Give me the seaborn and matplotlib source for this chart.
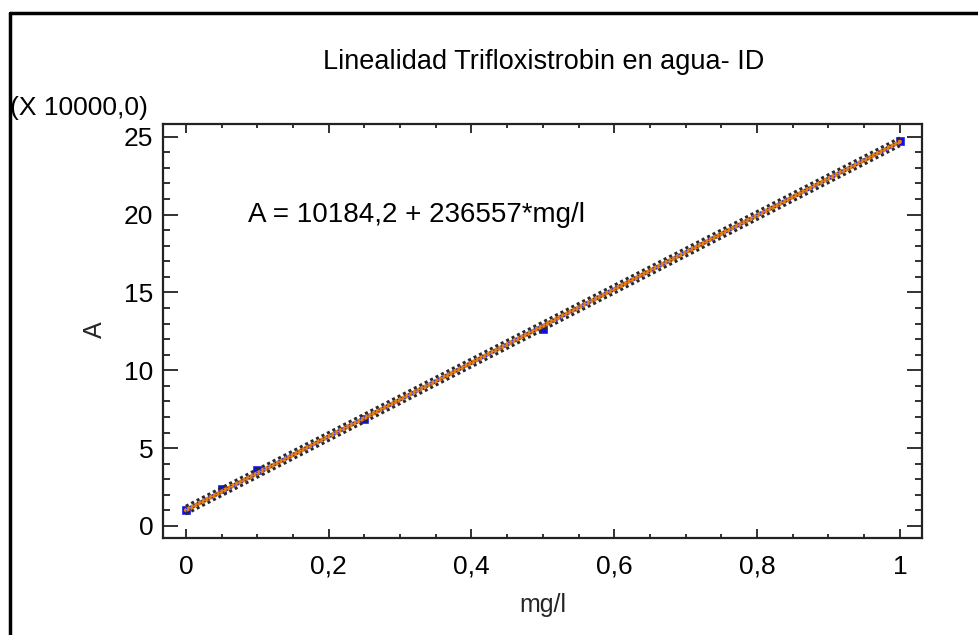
import numpy as np
import pandas as pd
import seaborn as sns
import matplotlib
matplotlib.use('Agg')
import matplotlib.pyplot as plt
from matplotlib.ticker import MultipleLocator, FuncFormatter
from matplotlib.lines import Line2D

# dados
conc = [0, 0.05, 0.1, 0.25, 0.5, 1.0]            # mg/l
area = [10300, 23500, 35800, 69000, 126500, 247500]  # A
intercepto = 10184.2
inclinacao = 236557
# meia-largura dos limites (em A)
lim_pred = 2500
lim_conf = 900

escala = 10000.0

sns.set_style('ticks')
plt.rcParams['font.family'] = ['Liberation Sans', 'DejaVu Sans']
plt.rcParams['text.color'] = 'black'

fig = plt.figure(figsize=(9.79, 6.35), dpi=100)
ax = fig.add_axes([0.1665, 0.1528, 0.9418 - 0.1665, 0.8043 - 0.1528])

xs = np.linspace(0, 1, 60)
ajuste = (intercepto + inclinacao * xs) / escala
dfl = pd.DataFrame({'x': xs, 'y': ajuste,
                    'pi_sup': ajuste + lim_pred / escala, 'pi_inf': ajuste - lim_pred / escala,
                    'ci_sup': ajuste + lim_conf / escala, 'ci_inf': ajuste - lim_conf / escala})
dfp = pd.DataFrame({'x': conc, 'y': np.array(area) / escala})

sns.scatterplot(data=dfp, x='x', y='y', ax=ax, marker='s', s=28, color='#1010e0',
                edgecolor='#1010e0', zorder=2)
for c in ['pi_sup', 'pi_inf']:
    sns.lineplot(data=dfl, x='x', y=c, ax=ax, color='#2a2a2a', lw=2.2,
                 linestyle=(0, (1, 1)), zorder=3)
sns.lineplot(data=dfl, x='x', y='y', ax=ax, color='#e8800f', lw=3, zorder=4)
for c in ['ci_sup', 'ci_inf']:
    sns.lineplot(data=dfl, x='x', y=c, ax=ax, color='#3030d0', lw=1,
                 linestyle=(0, (1, 2)), zorder=5)

ax.set_xlim(-0.032, 1.031)
ax.set_ylim(-0.77, 25.8)
ax.xaxis.set_major_locator(MultipleLocator(0.2))
ax.xaxis.set_minor_locator(MultipleLocator(0.05))
ax.yaxis.set_major_locator(MultipleLocator(5))
ax.yaxis.set_minor_locator(MultipleLocator(1))

fmt = FuncFormatter(lambda v, p: ('%g' % round(v, 2)).replace('.', ','))
ax.xaxis.set_major_formatter(fmt)
ax.yaxis.set_major_formatter(fmt)

ax.tick_params(axis='both', which='both', direction='in', top=True, right=True,
               width=1.3, color='#222222', labelsize=19, labelcolor='black')
ax.tick_params(axis='y', which='major', length=11, pad=7)
ax.tick_params(axis='y', which='minor', length=5)
ax.tick_params(axis='x', which='major', length=6.5, pad=12)
ax.tick_params(axis='x', which='minor', length=3)
for s in ax.spines.values():
    s.set_linewidth(1.6)
    s.set_color('#222222')

ax.set_xlabel('mg/l', fontsize=18, va='center')
ax.set_ylabel('A', fontsize=18, va='center')
ax.xaxis.set_label_coords(0.5, -0.162)
ax.yaxis.set_label_coords(-0.0896, 0.503)
ax.text(0.112, 0.781, 'A = 10184,2 + 236557*mg/l', transform=ax.transAxes,
        fontsize=20, va='center', ha='left')

fig.text(0.555, 1 - 62 / 635, 'Linealidad Trifloxistrobin en agua- ID',
         ha='center', va='center', fontsize=19.5)
fig.text(0.010, 1 - 108 / 635, '(X 10000,0)', ha='left', va='center', fontsize=19)

# borda da imagem (topo e esquerda)
fig.add_artist(Line2D([10 / 979, 1], [1 - 13 / 635, 1 - 13 / 635], color='black', lw=2.5))
fig.add_artist(Line2D([10 / 979, 10 / 979], [0, 1 - 13 / 635], color='black', lw=2.5))

fig.savefig('out.png', dpi=100)
